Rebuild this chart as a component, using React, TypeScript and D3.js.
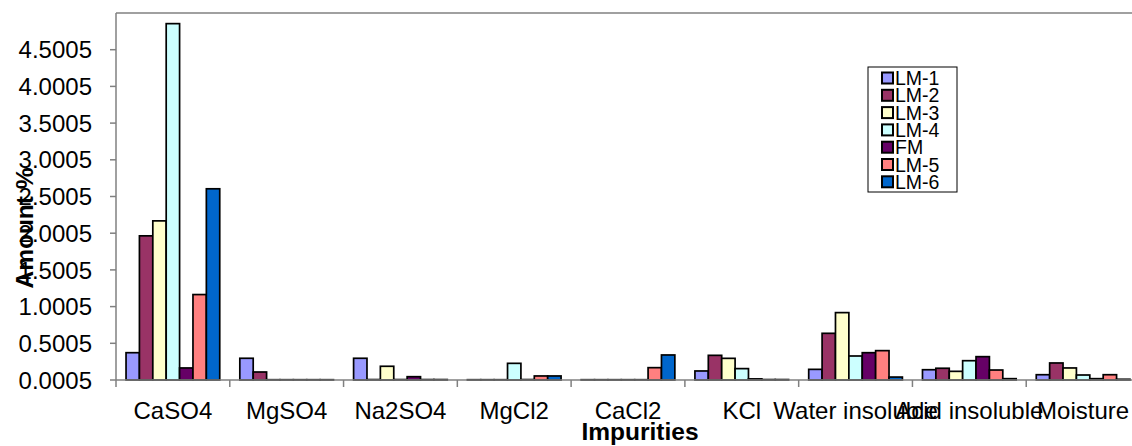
import React from 'react';
import * as d3 from 'd3';

// categories and series
const categories = ['CaSO4', 'MgSO4', 'Na2SO4', 'MgCl2', 'CaCl2', 'KCl', 'Water insoluble', 'Acid insoluble', 'Moisture'];
const seriesNames = ['LM-1', 'LM-2', 'LM-3', 'LM-4', 'FM', 'LM-5', 'LM-6'];
const seriesColors = ['#9999FF', '#993366', '#FFFFCC', '#CCFFFF', '#660066', '#FF8080', '#0066CC'];

const lm1 = [0.372, 0.296, 0.296, 0.004, 0.004, 0.123, 0.145, 0.14, 0.072];
const lm2 = [1.964, 0.109, 0.006, 0.004, 0.004, 0.336, 0.636, 0.16, 0.232];
const lm3 = [2.168, 0.004, 0.187, 0.004, 0.004, 0.295, 0.918, 0.118, 0.164];
const lm4 = [4.855, 0.004, 0.006, 0.227, 0.004, 0.155, 0.327, 0.263, 0.068];
const fm = [0.164, 0.004, 0.045, 0.006, 0.004, 0.015, 0.372, 0.318, 0.018];
const lm5 = [1.164, 0.004, 0.006, 0.055, 0.168, 0.006, 0.4, 0.136, 0.072];
const lm6 = [2.605, 0.004, 0.006, 0.055, 0.341, 0.006, 0.04, 0.018, 0.01];
const seriesValues = [lm1, lm2, lm3, lm4, fm, lm5, lm6];

const yTicks = [0.0005, 0.5005, 1.0005, 1.5005, 2.0005, 2.5005, 3.0005, 3.5005, 4.0005, 4.5005];

const W = 1132;
const H = 446;
const plot = { left: 116, top: 13, right: 1140, bottom: 380 };
const font = '"Liberation Sans", Arial, sans-serif';

const App = () => {
  const x0 = d3.scaleBand<string>().domain(categories).range([plot.left, plot.right]).padding(0);
  const bw = x0.bandwidth() / 8.5; // Excel gap width 150%
  const x1 = d3.scaleBand<string>()
    .domain(seriesNames)
    .range([0.75 * bw, 7.75 * bw])
    .padding(0);
  const y = d3.scaleLinear().domain([0.0005, 5.0005]).range([plot.bottom, plot.top]);

  const axisColor = '#808080';

  return (
    <svg width={W} height={H} style={{ position: 'absolute', left: 0, top: 0, background: '#fff' }} fontFamily={font}>
      {/* plot frame */}
      <line x1={plot.left} x2={plot.right} y1={plot.top} y2={plot.top} stroke={axisColor} strokeWidth={1.5} />

      {/* bars */}
      {categories.map((c, ci) => (
        <g key={c} transform={`translate(${x0(c)},0)`}>
          {seriesNames.map((s, si) => {
            const v = seriesValues[si][ci];
            const top = y(v + 0.0005);
            return (
              <rect
                key={s}
                x={x1(s)}
                y={top}
                width={x1.bandwidth()}
                height={plot.bottom - top}
                fill={seriesColors[si]}
                stroke="#000"
                strokeWidth={1.7}
              />
            );
          })}
        </g>
      ))}

      {/* y axis */}
      <line x1={plot.left} x2={plot.left} y1={plot.top} y2={plot.bottom + 7} stroke={axisColor} strokeWidth={1.5} />
      {yTicks.map((t) => (
        <g key={t}>
          <line x1={plot.left - 6} x2={plot.left} y1={y(t)} y2={y(t)} stroke={axisColor} strokeWidth={1.5} />
          <text x={92} y={y(t)} dy="0.36em" textAnchor="end" fontSize={24} fill="#000">
            {t.toFixed(4)}
          </text>
        </g>
      ))}

      {/* x axis */}
      <line x1={plot.left} x2={plot.right} y1={plot.bottom} y2={plot.bottom} stroke={axisColor} strokeWidth={1.5} />
      {categories.map((c) => (
        <g key={c}>
          <line x1={x0(c)! + x0.bandwidth()} x2={x0(c)! + x0.bandwidth()} y1={plot.bottom} y2={plot.bottom + 7} stroke={axisColor} strokeWidth={1.5} />
          <text x={x0(c)! + x0.bandwidth() / 2} y={419} textAnchor="middle" fontSize={24} fill="#000">
            {c}
          </text>
        </g>
      ))}

      {/* axis titles */}
      <text x={640} y={440} textAnchor="middle" fontSize={24.5} fontWeight="bold" fill="#000">
        Impurities
      </text>
      <text transform="translate(33,228) rotate(-90)" textAnchor="middle" fontSize={24.5} fontWeight="bold" fill="#000">
        Amount %
      </text>

      {/* legend */}
      <g>
        <rect x={868} y={67} width={89} height={125} fill="#fff" stroke="#000" strokeWidth={1} />
        {seriesNames.map((s, i) => {
          const cy = 78 + i * 17.3;
          return (
            <g key={s}>
              <rect x={882} y={cy - 5.5} width={11} height={11} fill={seriesColors[i]} stroke="#000" strokeWidth={2} />
              <text x={895} y={cy} dy="0.36em" fontSize={19.5} fill="#000">
                {s}
              </text>
            </g>
          );
        })}
      </g>
    </svg>
  );
};

export default App;
